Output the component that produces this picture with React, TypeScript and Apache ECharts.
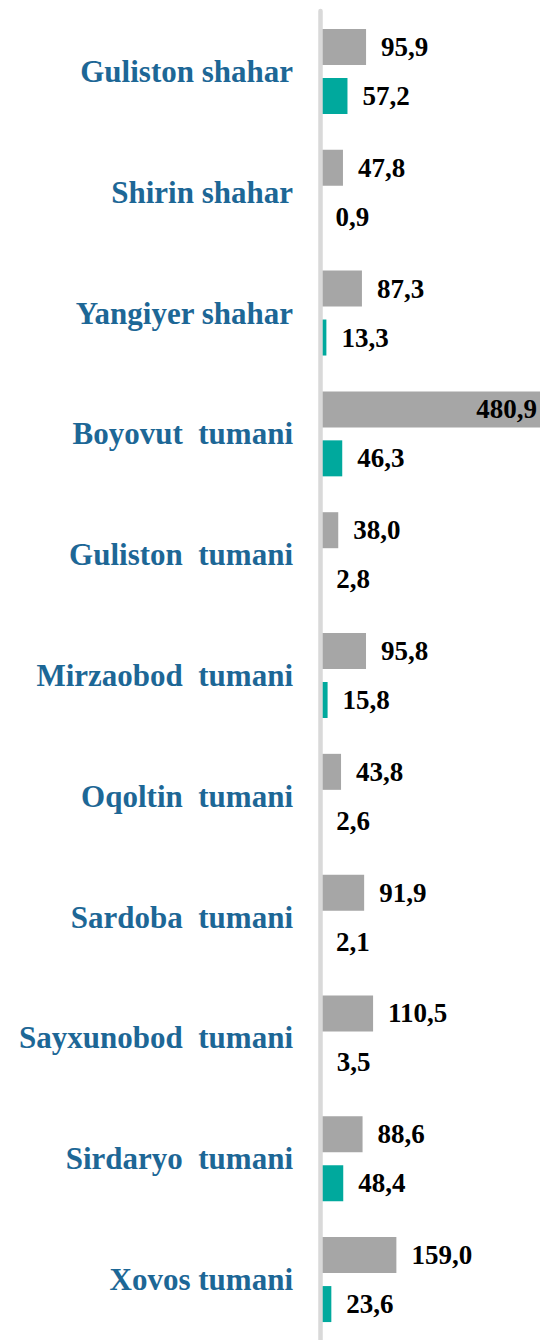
import React, { useEffect, useRef } from "react";
import * as echarts from "echarts";

const categories = [
  "Guliston shahar",
  "Shirin shahar",
  "Yangiyer shahar",
  "Boyovut  tumani",
  "Guliston  tumani",
  "Mirzaobod  tumani",
  "Oqoltin  tumani",
  "Sardoba  tumani",
  "Sayxunobod  tumani",
  "Sirdaryo  tumani",
  "Xovos tumani",
];
const grayValues = [95.9, 47.8, 87.3, 480.9, 38.0, 95.8, 43.8, 91.9, 110.5, 88.6, 159.0];
const tealValues = [57.2, 0.9, 13.3, 46.3, 2.8, 15.8, 2.6, 2.1, 3.5, 48.4, 23.6];

const FONT = "Liberation Serif";
const fmt = (v: number) => v.toFixed(1).replace(".", ",");

export default function App() {
  const ref = useRef<HTMLDivElement>(null);
  useEffect(() => {
    document.body.style.margin = "0";
    if (!ref.current) return;
    const chart = echarts.init(ref.current, undefined, { renderer: "svg" });
    const labelStyle = {
      show: true,
      position: "right" as const,
      distance: 15,
      fontFamily: FONT,
      fontWeight: "bold" as const,
      fontSize: 27,
      color: "#000",
      formatter: (p: any) => fmt(p.value),
    };
    chart.setOption({
      animation: false,
      backgroundColor: "#fff",
      grid: { left: 320, right: 0, top: 11, height: 1334, containLabel: false },
      xAxis: {
        type: "value",
        min: 0,
        max: 458,
        show: false,
      },
      yAxis: {
        type: "category",
        data: categories,
        inverse: true,
        z: 10,
        axisLine: { show: true, lineStyle: { color: "#d9d9d9", width: 4.5 } },
        axisTick: { show: false },
        axisLabel: {
          margin: 27,
          fontFamily: FONT,
          fontWeight: "bold",
          fontSize: 31,
          color: "#1d6796",
        },
      },
      series: [
        {
          type: "bar",
          data: grayValues.map((v) =>
            v > 458
              ? { value: v, label: { position: "insideRight", distance: 3 } }
              : v
          ),
          barWidth: 36,
          barGap: "36%",
          itemStyle: { color: "#a6a6a6" },
          label: labelStyle,
        },
        {
          type: "bar",
          data: tealValues,
          barWidth: 36,
          itemStyle: { color: "#00a99d" },
          label: labelStyle,
        },
      ],
    });
    return () => chart.dispose();
  }, []);
  return <div ref={ref} style={{ width: 540, height: 1340 }} />;
}
